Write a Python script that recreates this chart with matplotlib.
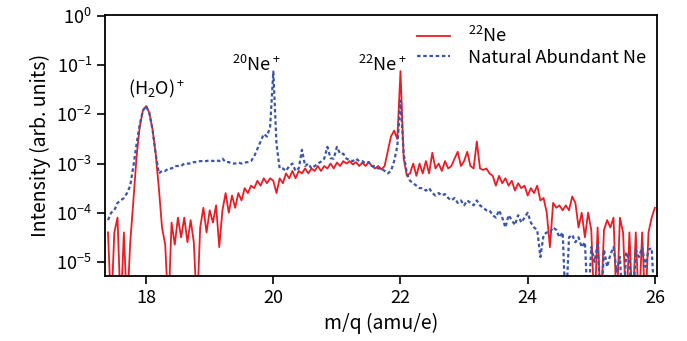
import numpy as np
import matplotlib
matplotlib.use("Agg")
import matplotlib.pyplot as plt

plt.rcParams['font.family'] = ['Noto Sans CJK JP', 'DejaVu Sans']
plt.rcParams['mathtext.fontset'] = 'custom'
plt.rcParams['mathtext.rm'] = 'Noto Sans CJK JP'
plt.rcParams['mathtext.it'] = 'Noto Sans CJK JP'

# m/q grid (amu/e), 17.40 .. 26.00 step 0.05
mq = np.linspace(17.40, 26.00, 173)

# log10 intensity; -6 means below the axis (zero counts)
log_ne22 = [
    -4.4, -6, -4.4, -4.1, -6, -4.4, -6, -4.6, -3.75, -2.85,
    -2.25, -1.92, -1.83, -1.97, -2.3, -2.8, -3.5, -4.3, -4.65, -6,
    -4.2, -4.65, -4.1, -4.5, -4.1, -4.6, -4.15, -4.6, -6, -4.3,
    -3.9, -4.4, -3.95, -4.2, -3.85, -4.7, -3.95, -3.6, -4.0, -3.65,
    -3.9, -3.6, -3.75, -3.5, -3.6, -3.45, -3.5, -3.35, -3.45, -3.3,
    -3.4, -3.3, -3.35, -3.6, -3.3, -3.4, -3.2, -3.3, -3.15, -3.3,
    -3.15, -3.2, -3.1, -3.2, -3.1, -3.15, -3.05, -3.15, -3.05, -3.1,
    -3.0, -3.1, -2.98, -3.05, -2.95, -3.0, -2.95, -3.02, -2.97, -3.05,
    -2.98, -3.05, -2.97, -3.05, -3.1, -3.05, -3.12, -3.05, -2.75, -2.45,
    -2.33, -2.5, -1.12, -2.9, -3.25, -3.2, -3.0, -3.25, -3.0, -3.2,
    -2.95, -3.2, -2.78, -3.1, -3.0, -3.15, -2.95, -3.1, -3.05, -2.9,
    -2.76, -3.05, -2.95, -2.76, -3.05, -3.1, -2.55, -3.1, -3.13, -3.1,
    -3.2, -3.25, -3.45, -3.25, -3.4, -3.3, -3.45, -3.35, -3.55, -3.4,
    -3.5, -3.45, -3.65, -3.5, -3.6, -3.45, -3.75, -3.7, -4.0, -4.7,
    -3.8, -3.9, -3.85, -3.95, -3.85, -3.95, -3.67, -3.8, -4.3, -4.0,
    -4.5, -4.0, -4.35, -6, -4.3, -6, -4.35, -4.15, -4.3, -4.1,
    -6, -4.1, -4.4, -6, -4.4, -6, -4.4, -6, -4.4, -6,
    -4.4, -4.1, -3.9,
]

log_natural = [
    -4.15, -4.0, -3.95, -3.8, -3.75, -3.7, -3.6, -3.45, -3.05, -2.6,
    -2.2, -1.92, -1.83, -1.97, -2.3, -2.8, -3.2, -3.15, -3.15, -3.1,
    -3.1, -3.05, -3.05, -3.05, -3.0, -3.0, -3.0, -2.97, -2.97, -2.95,
    -2.95, -2.95, -2.93, -2.95, -2.93, -2.95, -2.9, -2.97, -2.97, -3.0,
    -3.0, -2.98, -3.0, -2.98, -2.97, -2.95, -2.85, -2.7, -2.55, -2.4,
    -2.45, -2.25, -1.13, -2.6, -3.1, -3.1, -3.15, -3.05, -3.0, -3.15,
    -3.1, -2.72, -3.05, -3.0, -3.1, -3.05, -3.0, -2.96, -2.9, -2.66,
    -2.89, -2.9, -2.66, -2.8, -2.8, -2.9, -2.93, -2.95, -2.9, -2.95,
    -2.95, -3.0, -2.97, -3.05, -3.05, -3.1, -3.1, -3.15, -3.2, -3.15,
    -2.95, -2.65, -1.72, -2.8, -3.2, -3.35, -3.4, -3.45, -3.5, -3.5,
    -3.55, -3.5, -3.6, -3.65, -3.6, -3.65, -3.62, -3.7, -3.75, -3.7,
    -3.8, -3.75, -3.85, -3.75, -3.8, -3.85, -3.75, -3.85, -3.9, -3.95,
    -3.95, -4.05, -4.1, -3.95, -4.1, -4.3, -4.05, -4.15, -4.25, -4.05,
    -4.2, -4.1, -4.0, -4.2, -4.3, -4.35, -4.9, -4.45, -4.4, -4.4,
    -4.3, -4.35, -4.5, -4.4, -6, -4.5, -4.45, -4.6, -4.5, -4.7,
    -4.6, -6, -4.7, -5.0, -4.65, -6, -4.75, -5.1, -4.85, -4.7,
    -5.2, -4.9, -6, -4.8, -5.0, -6, -4.75, -4.9, -4.7, -5.1,
    -4.75, -4.72, -6,
]

ne22 = 10.0 ** np.array(log_ne22)
natural = 10.0 ** np.array(log_natural)

fig = plt.figure(figsize=(6.87, 3.41), dpi=100)
ax = fig.add_axes([0.153, 0.191, 0.803, 0.765])

ax.plot(mq, ne22, color='#ec1c24', lw=1.3, label='$^{22}$Ne')
ax.plot(mq, natural, color='#3a56a8', lw=1.6, ls=(0, (1.6, 1.2)),
        label='Natural Abundant Ne')

ax.set_yscale('log')
ax.set_xlim(17.355, 26.03)
ax.set_ylim(5.2e-6, 1.05)
ax.set_xticks([18, 20, 22, 24, 26])
ax.set_yticks([1e-5, 1e-4, 1e-3, 1e-2, 1e-1, 1e0])
ax.minorticks_off()
ax.tick_params(direction='out', length=6, width=1.2, labelsize=13)
for s in ax.spines.values():
    s.set_linewidth(1.3)

ax.set_xlabel('m/q (amu/e)', fontsize=14)
ax.set_ylabel('Intensity (arb. units)', fontsize=14)

ax.text(18.17, 10 ** -1.7, '(H$_2$O)$^+$', ha='center', va='bottom', fontsize=13)
ax.text(19.73, 10 ** -1.2, '$^{20}$Ne$^+$', ha='center', va='bottom', fontsize=13)
ax.text(21.72, 10 ** -1.2, '$^{22}$Ne$^+$', ha='center', va='bottom', fontsize=13)

ax.legend(loc='upper right', frameon=False, fontsize=13, handlelength=1.8,
          handletextpad=1.0, borderaxespad=0.2, labelspacing=0.15)

fig.savefig('out.png', dpi=100)
